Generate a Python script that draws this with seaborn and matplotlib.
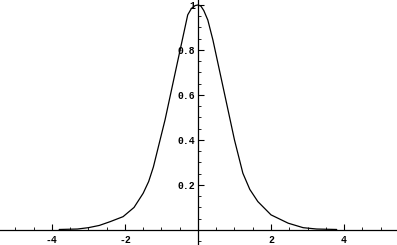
import matplotlib
matplotlib.use("Agg")
import matplotlib.pyplot as plt
from matplotlib.ticker import MultipleLocator, FixedLocator, FixedFormatter
import seaborn as sns
import pandas as pd

x_values = [-3.8, -3.3, -3.0, -2.7, -2.4, -2.05, -1.75, -1.5, -1.35, -1.22, -0.9, -0.6,
            -0.28, -0.18, -0.08, 0.0, 0.08, 0.16, 0.27, 0.41, 0.87, 1.0, 1.23, 1.42,
            1.64, 2.0, 2.47, 2.88, 3.25, 3.8]
y_values = [0.002, 0.004, 0.010, 0.020, 0.037, 0.059, 0.100, 0.163, 0.215, 0.280, 0.490, 0.716,
            0.956, 0.984, 0.997, 1.000, 0.995, 0.975, 0.933, 0.844, 0.498, 0.400, 0.252, 0.180,
            0.126, 0.067, 0.030, 0.010, 0.004, 0.002]
x_tick_values = [-4, -2, 2, 4]
x_tick_labels = ["-4", "-2", "2", "4"]
y_tick_values = [0.2, 0.4, 0.6, 0.8, 1.0]
y_tick_labels = ["0.2", "0.4", "0.6", "0.8", "1"]

df = pd.DataFrame({"x": x_values, "y": y_values})

sns.set_style("white")
plt.rcParams["font.family"] = ["Liberation Mono", "DejaVu Sans"]

fig = plt.figure(figsize=(3.97, 2.45), dpi=100)
ax = fig.add_axes([0, 0, 1, 1])
ax.set_facecolor("white")

sns.lineplot(data=df, x="x", y="y", color="black", linewidth=0.9,
             estimator=None, sort=False, ax=ax)

ax.set_xlim(-5.42, 5.45)
ax.set_ylim(-0.067, 1.022)
ax.set_xlabel("")
ax.set_ylabel("")

for s in ["top", "right"]:
    ax.spines[s].set_visible(False)
ax.spines["left"].set_position(("data", 0))
ax.spines["bottom"].set_position(("data", 0))
for s in ["left", "bottom"]:
    ax.spines[s].set_color("black")
    ax.spines[s].set_linewidth(0.9)

ax.xaxis.set_major_locator(FixedLocator(x_tick_values))
ax.xaxis.set_major_formatter(FixedFormatter(x_tick_labels))
ax.xaxis.set_minor_locator(MultipleLocator(0.5))
ax.yaxis.set_major_locator(FixedLocator(y_tick_values))
ax.yaxis.set_major_formatter(FixedFormatter(y_tick_labels))
ax.yaxis.set_minor_locator(MultipleLocator(0.05))

ax.tick_params(which="major", direction="in", length=4, width=0.8, color="black",
               labelsize=7, labelcolor="black")
ax.tick_params(which="minor", direction="in", length=2, width=0.6, color="black")
ax.tick_params(axis="x", which="both", bottom=True, top=False, pad=4)
ax.tick_params(axis="y", which="both", left=True, right=False, pad=2)
for lab in ax.get_xticklabels() + ax.get_yticklabels():
    lab.set_fontweight("bold")

fig.savefig("out.png", dpi=100)
